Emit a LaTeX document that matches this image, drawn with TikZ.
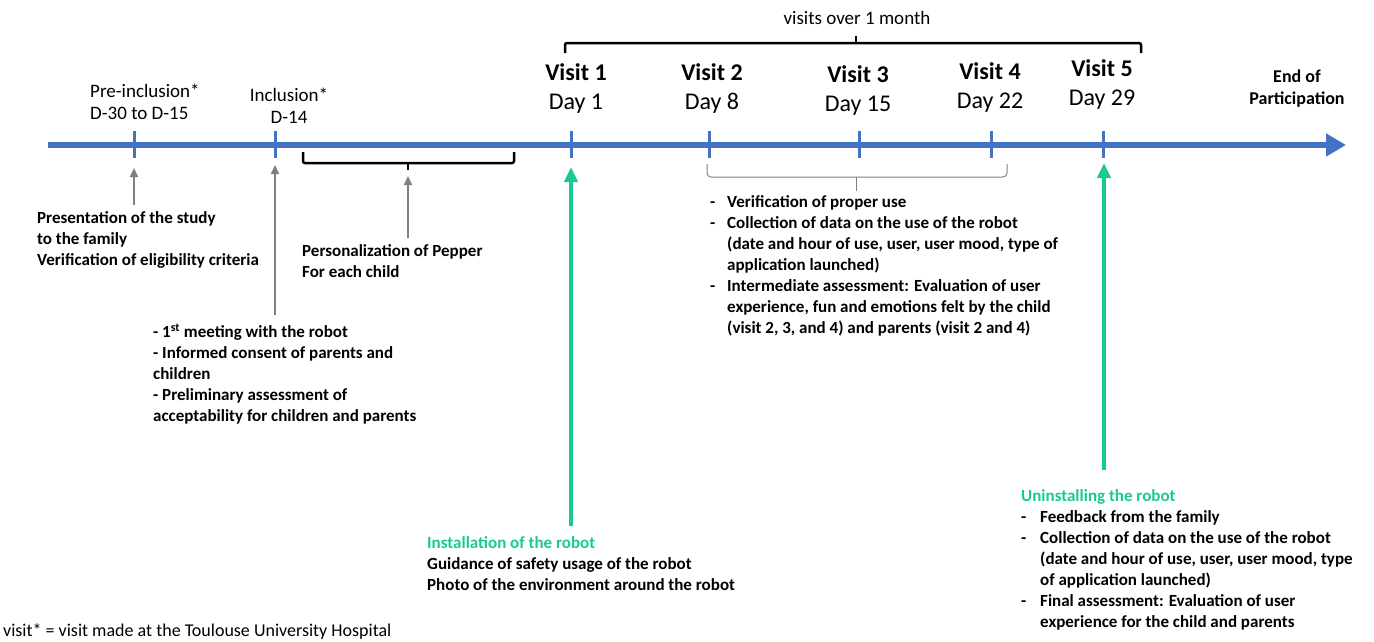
\documentclass[tikz,border=0pt]{standalone}
\usepackage{fontspec}
\setmainfont{Carlito}
\usetikzlibrary{arrows.meta}
\definecolor{tlblue}{RGB}{68,114,196}
\definecolor{robotgreen}{RGB}{24,201,150}
\definecolor{arrgray}{RGB}{128,128,128}

\begin{document}
\begin{tikzpicture}[x=1pt, y=-1pt,
    every node/.style={inner sep=0pt},
    toplabel/.style={font=\fontsize{19}{22}\selectfont, align=center},
    visitlabel/.style={font=\fontsize{24}{29}\selectfont, align=center},
    note/.style={font=\fontsize{17}{21}\selectfont\bfseries, align=left, anchor=north west},
    timeline/.style={tlblue, line width=6pt, -{Triangle[length=20pt,width=22pt]}},
    tick/.style={tlblue, line width=3pt},
    bracket/.style={black, line width=2.5pt, rounded corners=2pt},
    grayarrow/.style={arrgray, line width=2pt, shorten <=6pt, -{Triangle[length=9pt,width=8pt]}},
    greenarrow/.style={robotgreen, line width=4pt, shorten <=10pt, -{Triangle[length=15pt,width=13pt]}}]
    \useasboundingbox (0,0) rectangle (1374,641);

    % time axis
    \coordinate (start) at (48,145);
    \coordinate (end) at (1346,145);
    \draw[timeline] (start) -- (end);
    \foreach \name/\x in {pre/134, inc/275, v1/571, v2/709, v3/859, v4/991, v5/1103}
    \draw[tick] (\x,131) -- (\x,158);

    % labels above the axis
    \node (prelbl) [toplabel, align=left, anchor=north west] at (90,84) {Pre-inclusion*\\D-30 to D-15};
    \node (inclbl) [toplabel] at (289,106) {Inclusion*\\D-14};
    \foreach \n/\x/\y/\d in {1/576/89/1, 2/712/89/8, 3/858/91/15, 4/990/88/22, 5/1102/85/29}
    \node (v\n lbl) [visitlabel] at (\x,\y) {\textbf{Visit \n}\\Day \d};
    \node (endlbl) [toplabel, font=\fontsize{18}{22}\selectfont\bfseries] at (1297,89) {End of\\Participation};

    % brackets
    \node (month) [toplabel] at (857,18) {visits over 1 month};
    \draw[bracket] (565,53) -- (565,43) -- (1141,43) -- (1141,53);
    \draw[bracket] (856,43) -- (856,36);
    \draw[bracket] (303,152) -- (303,163) -- (514,163) -- (514,152);
    \draw[bracket] (408,163) -- (408,170);
    \draw[arrgray, line width=1pt, rounded corners=4pt] (707,164) -- (707,177) -- (1007,177) -- (1007,164);
    \draw[arrgray, line width=1pt] (856,177) -- (856,191);

    % notes below the axis
    \node (pres) [note] at (37,211) {Presentation of the study\\to the family\\Verification of eligibility criteria};
    \node (meet) [note] at (153,324) {- 1\textsuperscript{st} meeting with the robot\\- Informed consent of parents and\\children\\- Preliminary assessment of\\acceptability for children and parents};
    \node (pers) [note] at (302,244) {Personalization of Pepper\\For each child};
    \node (install) [note] at (427,536) {\textcolor{robotgreen}{Installation of the robot}\\Guidance of safety usage of the robot\\Photo of the environment around the robot};
    \node (follow) [note] at (710,193) {\begin{tabular}{@{}p{17pt}@{}l@{}}
      - & Verification of proper use\\
      - & Collection of data on the use of the robot\\
        & (date and hour of use, user, user mood, type of\\
        & application launched)\\
      - & Intermediate assessment: Evaluation of user\\
        & experience, fun and emotions felt by the child\\
        & (visit 2, 3, and 4) and parents (visit 2 and 4)
    \end{tabular}};
    \node (uninst) [note] at (1021,487) {\begin{tabular}{@{}p{19pt}@{}l@{}}
      \multicolumn{2}{@{}l@{}}{\textcolor{robotgreen}{Uninstalling the robot}}\\
      - & Feedback from the family\\
      - & Collection of data on the use of the robot\\
        & (date and hour of use, user, user mood, type\\
        & of application launched)\\
      - & Final assessment: Evaluation of user\\
        & experience for the child and parents
    \end{tabular}};
    \node (foot) [anchor=north west, font=\fontsize{18}{22}\selectfont] at (3,624) {visit* = visit made at the Toulouse University Hospital};

    % arrows to the axis
    \coordinate (pretip) at (134,168);
    \coordinate (inctip) at (275,165);
    \coordinate (perstip) at (408,176);
    \coordinate (v1tip) at (571,167);
    \coordinate (v5tip) at (1104,163);
    \draw[grayarrow] (pretip |- pres.north) -- (pretip);
    \draw[grayarrow, shorten <=9pt] (inctip |- meet.north) -- (inctip);
    \draw[grayarrow] (perstip |- pers.north) -- (perstip);
    \draw[greenarrow] (v1tip |- install.north) -- (v1tip);
    \draw[greenarrow, shorten <=17pt] (v5tip |- uninst.north) -- (v5tip);
  \end{tikzpicture}
\end{document}
